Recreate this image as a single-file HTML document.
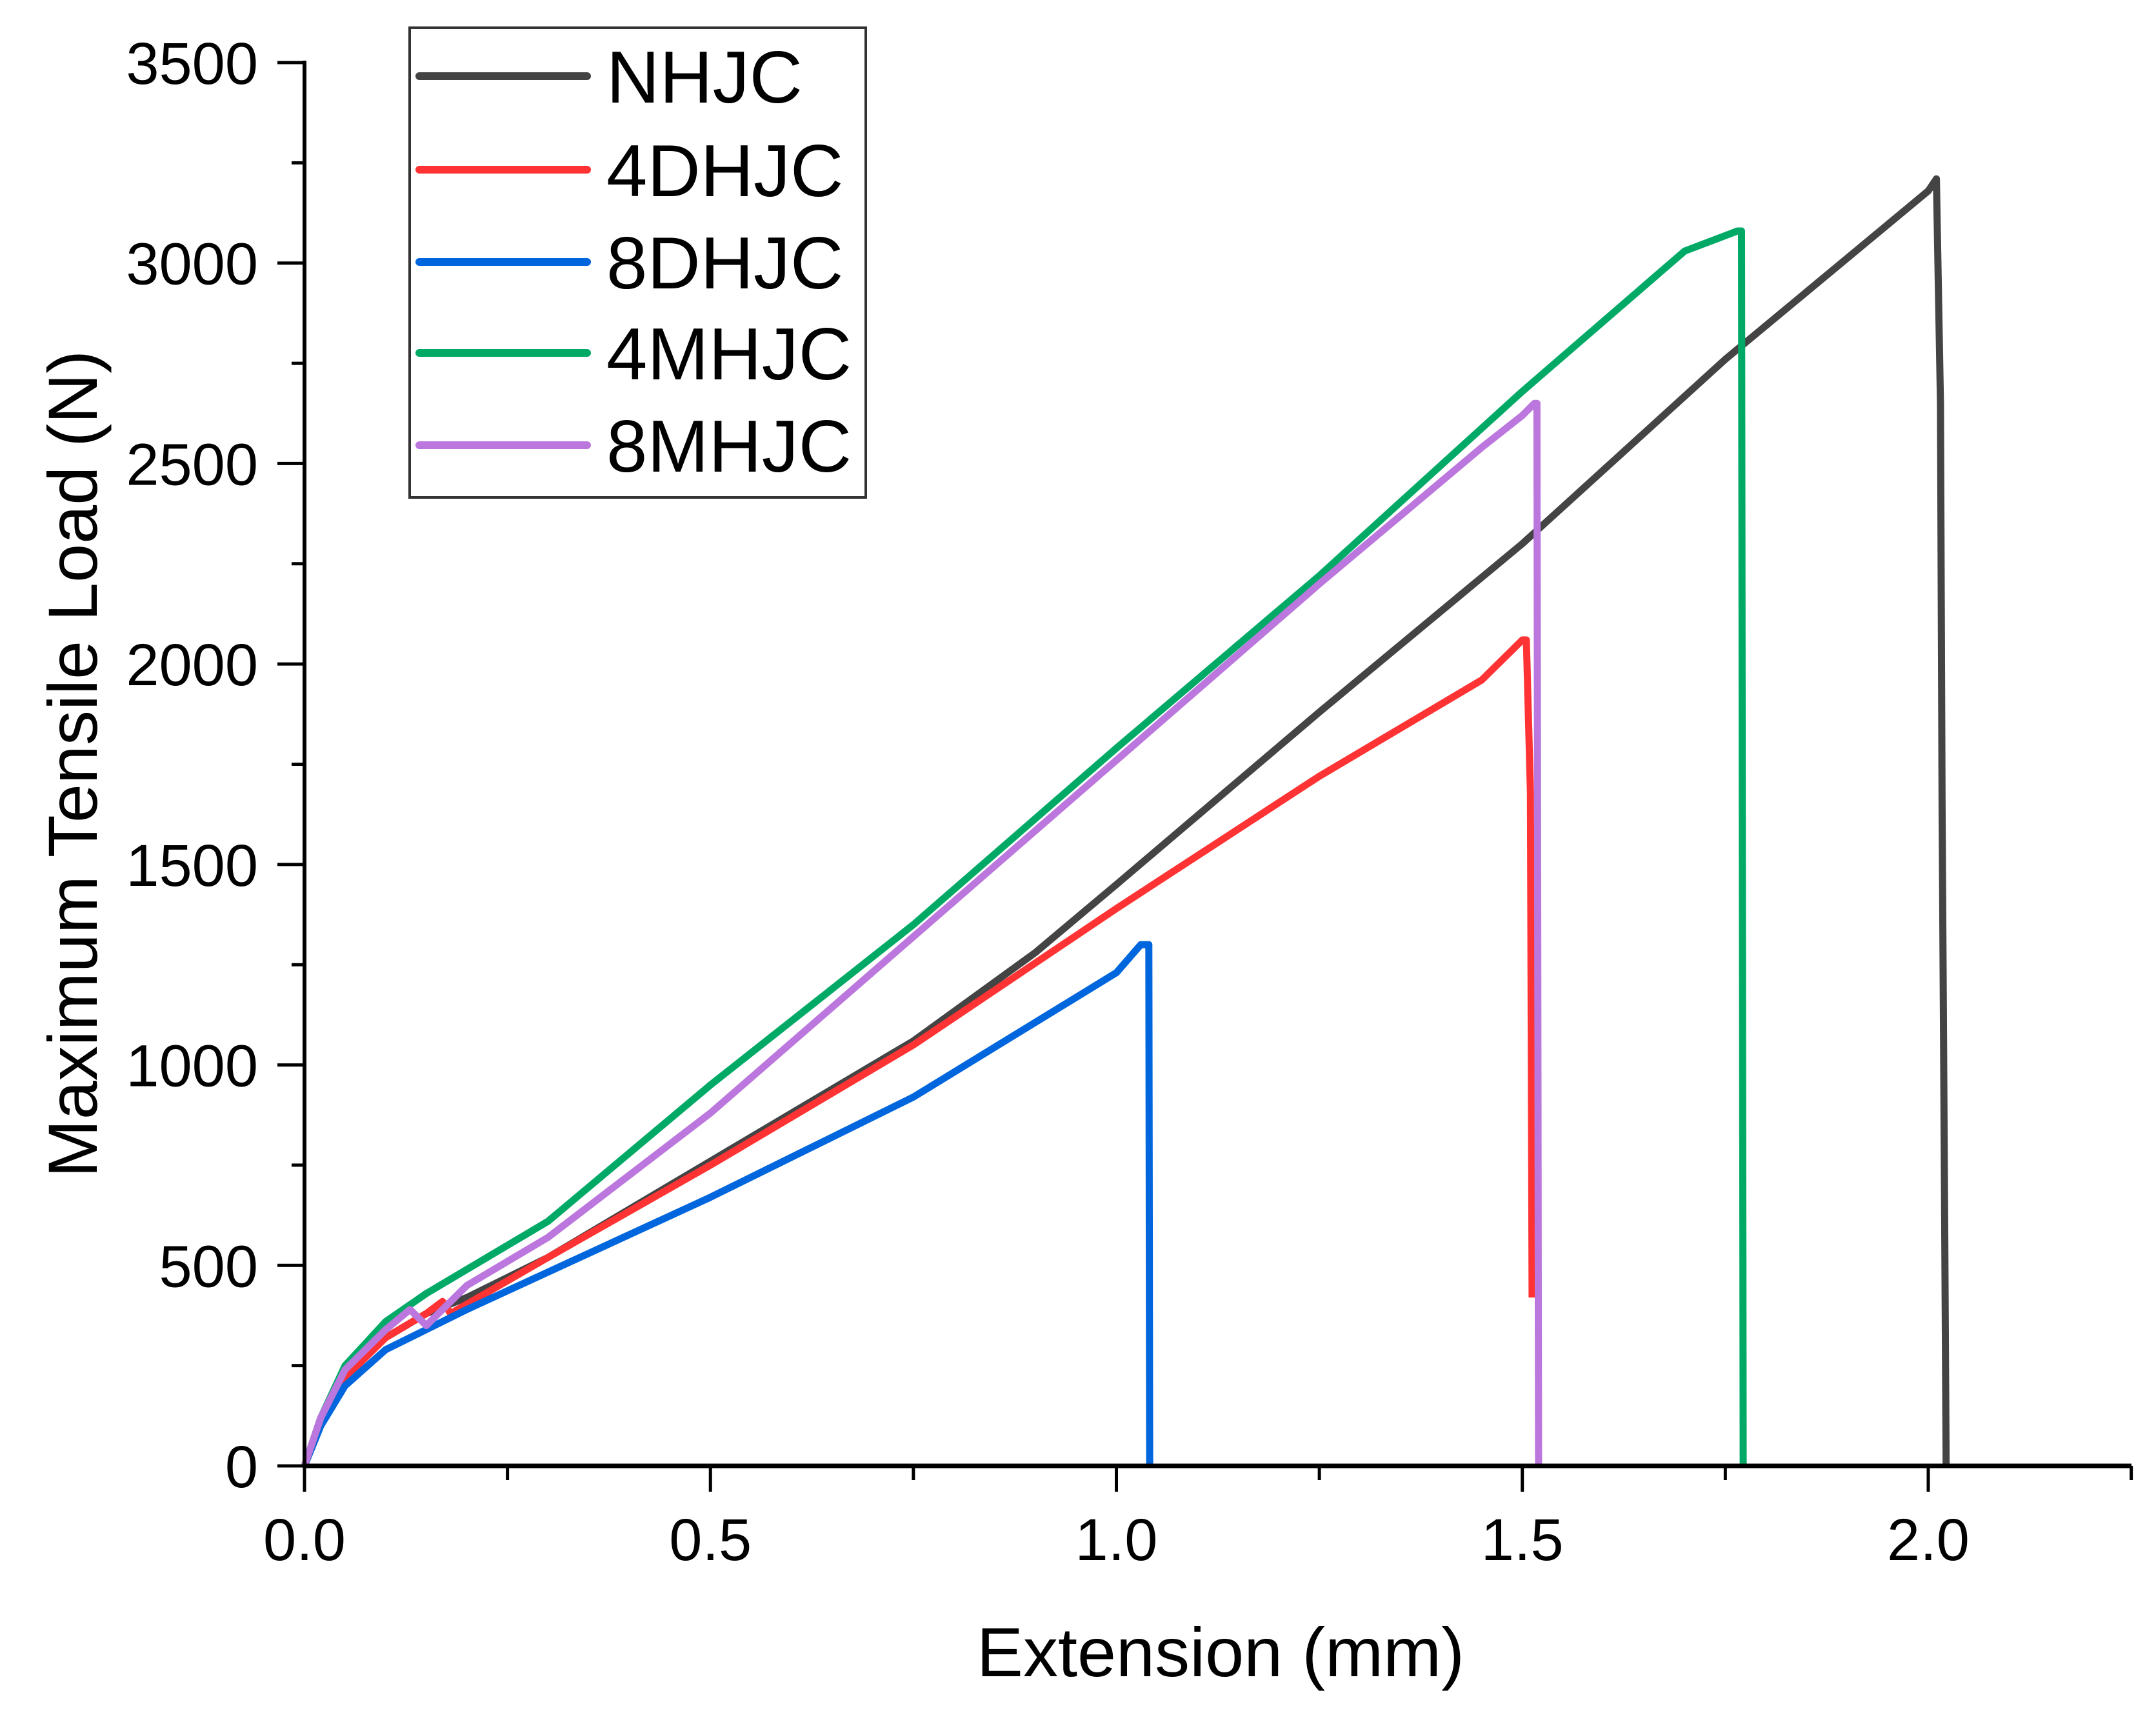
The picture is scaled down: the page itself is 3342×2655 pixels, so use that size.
<!DOCTYPE html>
<html><head><meta charset="utf-8"><style>
html,body{margin:0;padding:0;background:#fff;}
svg{display:block;font-family:"Liberation Sans",Arial,sans-serif;}
</style></head><body>
<svg id="chart" width="3342" height="2655" viewBox="0 0 3342 2655" xmlns="http://www.w3.org/2000/svg">
<rect width="3342" height="2655" fill="#fff"/>
<g id="series"></g>
<g id="axes"></g>
<text x="1892" y="2598" font-size="108" text-anchor="middle">Extension (mm)</text>
<text transform="translate(150,1184) rotate(-90)" font-size="108" text-anchor="middle">Maximum Tensile Load (N)</text>
<g id="legend">
<rect x="635" y="43" width="707" height="728" fill="#fff" stroke="#333" stroke-width="4"/>
</g>
</svg>
<script>
const seriesNames = ["NHJC","4DHJC","8DHJC","4MHJC","8MHJC"];
const seriesColors = ["#444444","#ff3333","#0066dd","#00aa66","#bb77dd"];
const nhjcX = [0,0.02,0.05,0.1,0.15,0.2,0.3,0.5,0.75,0.9,1.0,1.25,1.5,1.75,2.0,2.01,2.015,2.017,2.02,2.022];
const nhjcY = [0,120,230,320,380,420,520,760,1060,1280,1450,1880,2300,2760,3180,3210,2650,1650,670,0];
const d4X = [0,0.02,0.05,0.1,0.15,0.17,0.18,0.3,0.5,0.75,1.0,1.25,1.45,1.5,1.505,1.51,1.512];
const d4Y = [0,110,220,320,380,410,380,520,750,1050,1390,1720,1960,2060,2060,1680,420];
const d8X = [0,0.02,0.05,0.1,0.2,0.35,0.5,0.75,1.0,1.03,1.04,1.041];
const d8Y = [0,100,200,290,390,530,670,920,1230,1300,1300,0];
const m4X = [0,0.02,0.05,0.1,0.15,0.3,0.5,0.75,1.0,1.25,1.5,1.7,1.765,1.77,1.772];
const m4Y = [0,120,250,360,430,610,950,1350,1790,2220,2680,3030,3080,3080,0];
const m8X = [0,0.02,0.05,0.1,0.13,0.15,0.2,0.3,0.5,0.75,1.0,1.25,1.45,1.5,1.515,1.518,1.52];
const m8Y = [0,120,240,340,390,350,450,570,880,1320,1760,2200,2540,2620,2650,2650,0];
const xTicks = [0,0.5,1.0,1.5,2.0];
const xTickLabels = ["0.0","0.5","1.0","1.5","2.0"];
const yTicks = [0,500,1000,1500,2000,2500,3000,3500];
const yTickLabels = ["0","500","1000","1500","2000","2500","3000","3500"];

const NS="http://www.w3.org/2000/svg";
const X0=472, XS=1258.5, Y0=2272, YS=2175/3500;
const sx=v=>X0+v*XS, sy=v=>Y0-v*YS;
function mk(tag,attrs,parent){const e=document.createElementNS(NS,tag);for(const k in attrs)e.setAttribute(k,attrs[k]);parent.appendChild(e);return e;}
const sg=document.getElementById('series');
const allX=[nhjcX,d4X,d8X,m4X,m8X], allY=[nhjcY,d4Y,d8Y,m4Y,m8Y];
[0,1,2,3,4].forEach(i=>{
  const pts=allX[i].map((x,j)=>sx(x).toFixed(1)+","+sy(allY[i][j]).toFixed(1)).join(" ");
  const p=mk('polyline',{points:pts,fill:"none",stroke:seriesColors[i],"stroke-width":11,"stroke-linejoin":"round"},sg);
  
  
});
const ax=document.getElementById('axes');
const xa=mk('line',{x1:X0-3,y1:Y0,x2:3304,y2:Y0,stroke:"#000","stroke-width":7},ax);


const ya=mk('line',{x1:X0,y1:94,x2:X0,y2:Y0+3,stroke:"#000","stroke-width":6},ax);


for(let v=0;v<=2.25001;v+=0.25){
  const major=Math.abs(v*2-Math.round(v*2))<1e-6;
  const t=mk('line',{x1:sx(v),y1:Y0,x2:sx(v),y2:Y0+(major?40:22),stroke:"#000","stroke-width":5},ax);
  
  
}
xTicks.forEach((v,i)=>{
  const t=mk('text',{x:sx(v),y:2418,"font-size":92,"text-anchor":"middle"},ax);
  t.textContent=xTickLabels[i];
  
  
});
for(let v=0;v<=3500;v+=250){
  const major=v%500===0;
  const t=mk('line',{x1:X0-(major?42:20),y1:sy(v),x2:X0,y2:sy(v),stroke:"#000","stroke-width":5},ax);
  
  
}
yTicks.forEach((v,i)=>{
  const t=mk('text',{x:400,y:sy(v)+33,"font-size":92,"text-anchor":"end"},ax);
  t.textContent=yTickLabels[i];
  
  
});
const lg=document.getElementById('legend');
const ly=[118,263,406,547,690];
seriesNames.forEach((n,i)=>{
  const l=mk('line',{x1:650,y1:ly[i],x2:910,y2:ly[i],stroke:seriesColors[i],"stroke-width":12,"stroke-linecap":"round"},lg);
  
  
  const t=mk('text',{x:940,y:ly[i]+41,"font-size":114},lg);
  t.textContent=n;
  
  
});
</script>
</body></html>
